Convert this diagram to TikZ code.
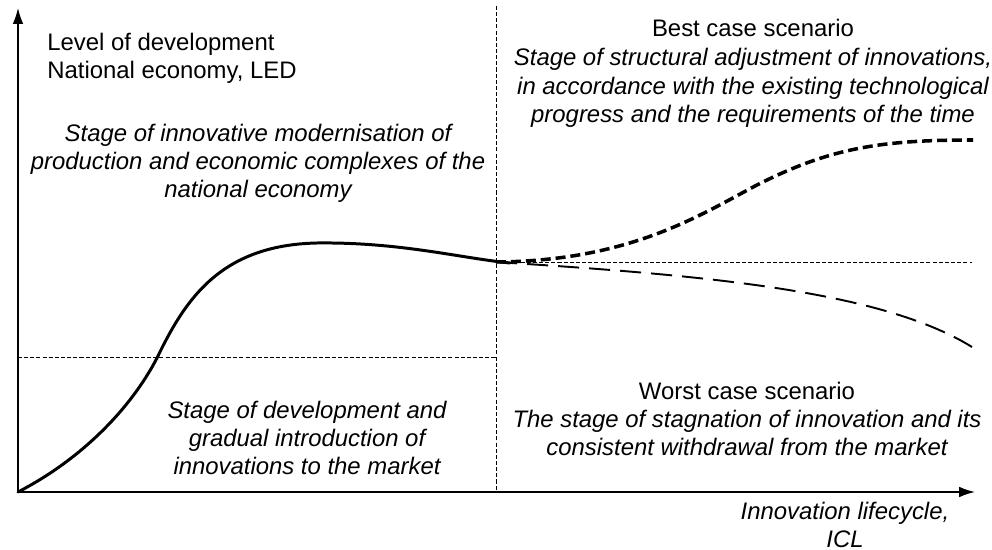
\documentclass[tikz,border=0pt]{standalone}
\usepackage{fontspec}
\setmainfont{Liberation Sans}
\usetikzlibrary{arrows.meta,positioning}

\begin{document}
\begin{tikzpicture}[x=0.02cm,y=-0.02cm,
    axis/.style={line width=0.85pt,-{Latex[length=9pt,width=6pt]}},
    guide/.style={line width=0.45pt,dash pattern=on 2.3pt off 1.2pt},
    mainline/.style={line width=1.7pt,line cap=round},
    bestline/.style={line width=2pt,dash pattern=on 5.7pt off 2.8pt},
    worstline/.style={line width=1.1pt,dash pattern=on 12pt off 5.7pt},
    plain/.style={font=\fontsize{13.6}{16}\selectfont,inner sep=0pt},
    stage/.style={plain,align=center,font=\fontsize{13.6}{16}\selectfont\itshape}]
  \useasboundingbox (0,0) rectangle (992,550);

  % axes
  \coordinate (o) at (18,492);
  \coordinate (ytop) at (18,8);
  \coordinate (xend) at (975,492);
  \draw[axis] (o) -- (ytop);
  \draw[axis] (o) -- (xend);

  % stage borders
  \coordinate (mtop) at (496,6);
  \coordinate (mbot) at (496,492);
  \coordinate (lmid) at (18,357);
  \coordinate (cmid) at (496,357);
  \coordinate (cpt) at (496,262);
  \coordinate (rpt) at (972,262);
  \draw[guide] (mtop) -- (mbot);
  \draw[guide] (lmid) -- (cmid);
  \draw[guide] (cpt) -- (rpt);

  % development curve and scenarios
  \draw[mainline] (o) .. controls (80,460) and (130,410) .. (157,358)
    .. controls (185,300) and (220,245) .. (317,243)
    .. controls (400,242) and (460,258) .. (510,263);
  \draw[bestline] (cpt) .. controls (630,261) and (700,215) .. (757,185)
    .. controls (830,148) and (880,140) .. (973,140);
  \draw[worstline] (cpt) .. controls (700,275) and (880,290) .. (972,347);

  % labels
  \node[plain,align=left,anchor=west] (led) at (47,58)
    {Level of development\\National economy, LED};
  \node[stage] (modern) at (258,163)
    {Stage of innovative modernisation of\\production and economic complexes of the\\national economy};
  \node[stage] (intro) at (307,438)
    {Stage of development and\\gradual introduction of\\innovations to the market};
  \node[stage] (best) at (753,73)
    {\textup{Best case scenario}\\[1pt]Stage of structural adjustment of innovations,\\in accordance with the existing technological\\progress and the requirements of the time};
  \node[stage] (worst) at (747,419)
    {\textup{Worst case scenario}\\The stage of stagnation of innovation and its\\consistent withdrawal from the market};
  \node[stage] (icl) at (845,525) {Innovation lifecycle,\\ICL};
\end{tikzpicture}
\end{document}
